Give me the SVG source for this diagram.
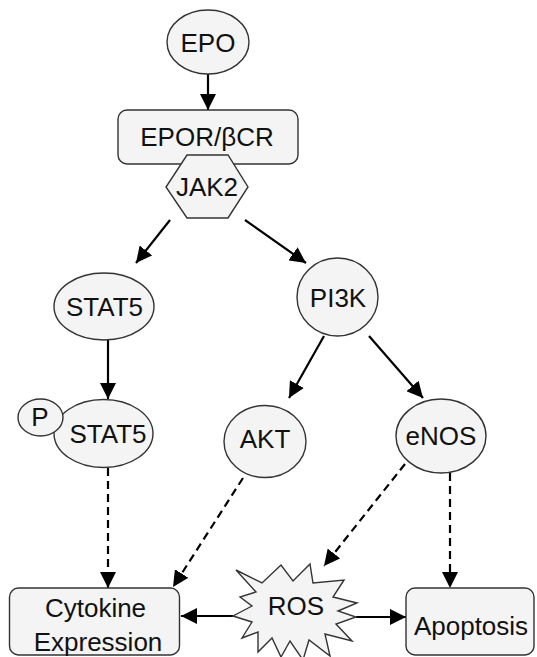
<svg xmlns="http://www.w3.org/2000/svg" width="537" height="657" viewBox="0 0 537 657">
<style>
.n{fill:#f4f4f4;stroke:#333;stroke-width:1.4}
.t{font-family:"Liberation Sans",Arial,sans-serif;font-size:26px;fill:#111;text-anchor:middle}
.c{stroke:#000;stroke-width:2.2;fill:none}
.d{stroke-dasharray:8,5}
</style>
<defs>
<marker id="ah" markerUnits="userSpaceOnUse" markerWidth="17" markerHeight="16" refX="16" refY="8" orient="auto">
<path d="M0,0 L16,8 L0,16 z" fill="#000"/>
</marker>
</defs>
<rect width="537" height="657" fill="#fff"/>
<g id="connectors">
<line class="c" x1="208" y1="74" x2="208" y2="110" marker-end="url(#ah)"/>
<line class="c" x1="170" y1="220" x2="136" y2="263" marker-end="url(#ah)"/>
<line class="c" x1="245" y1="220" x2="306" y2="263" marker-end="url(#ah)"/>
<line class="c" x1="108" y1="340" x2="108" y2="399" marker-end="url(#ah)"/>
<line class="c" x1="324" y1="336" x2="289" y2="398" marker-end="url(#ah)"/>
<line class="c" x1="369" y1="336" x2="423" y2="398" marker-end="url(#ah)"/>
<line class="c d" x1="108" y1="468" x2="108" y2="588" marker-end="url(#ah)"/>
<line class="c d" x1="243" y1="478" x2="173" y2="587" marker-end="url(#ah)"/>
<line class="c d" x1="405" y1="464" x2="324" y2="566" marker-end="url(#ah)"/>
<line class="c d" x1="450" y1="473" x2="450" y2="588" marker-end="url(#ah)"/>
<line class="c" x1="233" y1="616" x2="181" y2="616" marker-end="url(#ah)"/>
<line class="c" x1="356" y1="617" x2="406" y2="617" marker-end="url(#ah)"/>
</g>
<g id="EPO">
<ellipse class="n" cx="208" cy="42" rx="41" ry="32"/>
<text class="t" x="208" y="52" font-size="27">EPO</text>
</g>
<g id="EPOR">
<rect class="n" x="118" y="110" width="180" height="54" rx="9"/>
<text class="t" x="207" y="146">EPOR/βCR</text>
</g>
<g id="JAK2">
<polygon class="n" points="187,155 228,155 248,187 228,218 187,218 166,187"/>
<text class="t" x="207" y="196">JAK2</text>
</g>
<g id="STAT5">
<ellipse class="n" cx="104" cy="306.5" rx="50" ry="33.5"/>
<text class="t" x="104.5" y="316" font-size="27">STAT5</text>
</g>
<g id="PI3K">
<ellipse class="n" cx="337.5" cy="297" rx="40.5" ry="39"/>
<text class="t" x="338" y="307">PI3K</text>
</g>
<g id="pSTAT5">
<ellipse class="n" cx="103.5" cy="433.5" rx="49.5" ry="34"/>
<ellipse class="n" cx="40.5" cy="417.5" rx="22.5" ry="18.5"/>
<text class="t" x="40" y="426" font-size="22">P</text>
<text class="t" x="108" y="443" font-size="27">STAT5</text>
</g>
<g id="AKT">
<ellipse class="n" cx="265" cy="441.5" rx="41" ry="36"/>
<text class="t" x="265" y="448">AKT</text>
</g>
<g id="eNOS">
<ellipse class="n" cx="441" cy="436" rx="45" ry="37"/>
<text class="t" x="441" y="445">eNOS</text>
</g>
<g id="Cytokine">
<rect class="n" x="9.5" y="588" width="170" height="67" rx="9"/>
<text class="t" x="95.5" y="617">Cytokine</text>
<text class="t" x="98" y="651" font-size="25">Expression</text>
</g>
<g id="ROS">
<polygon class="n" points="236,570 262,583 281,565 293,581 310,564 313,583 344,580 333,597 357,603 338,611 356,617 336,624 352,641 325,634 330,656 309,640 303,660 290,641 281,657 272,638 258,652 258,632 242,638 252,622 233,616 252,606 240,597 256,592"/>
<text class="t" x="296" y="615">ROS</text>
</g>
<g id="Apoptosis">
<rect class="n" x="406" y="588" width="128" height="67" rx="9"/>
<text class="t" x="471" y="635">Apoptosis</text>
</g>
</svg>
